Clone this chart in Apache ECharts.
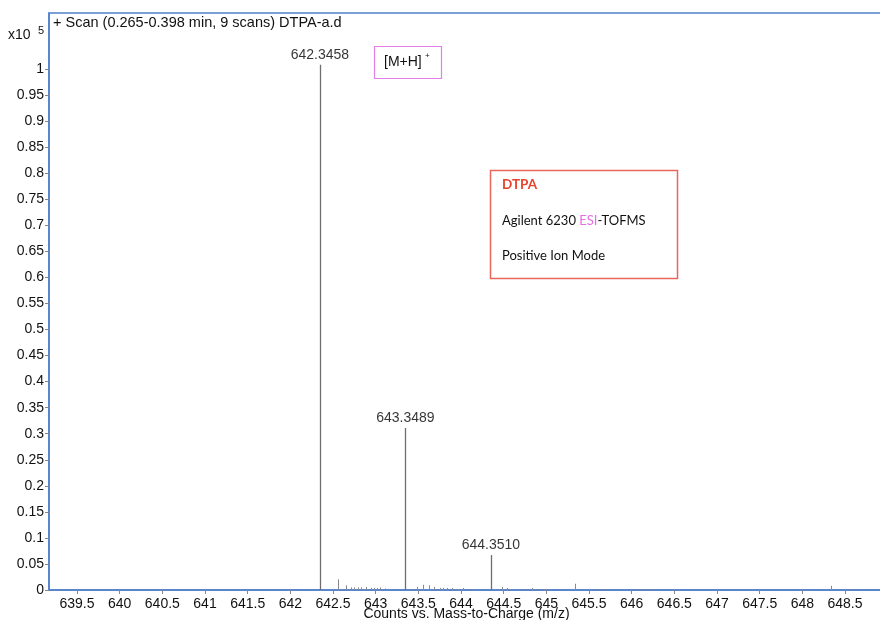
<!DOCTYPE html>
<html>
<head>
<meta charset="utf-8">
<script src="https://cdn.jsdelivr.net/npm/echarts@6/dist/echarts.min.js"></script>
<style>html,body{margin:0;padding:0;background:#fff}#c{width:880px;height:620px}</style>
</head>
<body>
<div id="c"></div>
<script>
// m/z values (x) and counts (x10^5)
const peakMz = [
  642.3458, 642.48, 642.562, 642.649, 642.707, 642.742, 642.797, 642.83, 642.887, 642.949, 642.984, 643.019, 643.054, 643.11,
  643.3489, 643.43, 643.49, 643.56, 643.625, 643.687, 643.75, 643.79, 643.84, 643.90, 643.97, 644.02, 644.11, 644.16, 644.21,
  644.3510, 644.40, 644.477, 644.535, 644.58, 644.63, 644.68, 644.74, 644.83, 644.90, 644.97, 645.05, 645.15,
  645.336, 645.45, 645.52, 645.60, 645.70, 646.05, 646.12, 646.22, 646.55, 646.70, 647.80, 648.15, 648.34, 648.56
];
const peakIntensity = [
  1.008, 0.002, 0.0205, 0.009, 0.005, 0.005, 0.005, 0.005, 0.006, 0.004, 0.004, 0.004, 0.005, 0.003,
  0.311, 0.002, 0.006, 0.010, 0.009, 0.006, 0.004, 0.004, 0.004, 0.004, 0.002, 0.004, 0.002, 0.002, 0.002,
  0.067, 0.002, 0.006, 0.004, 0.002, 0.002, 0.002, 0.002, 0.004, 0.002, 0.002, 0.002, 0.002,
  0.012, 0.002, 0.002, 0.002, 0.002, 0.002, 0.002, 0.002, 0.002, 0.002, 0.002, 0.002, 0.008, 0.002
];
const labeledMz = [642.3458, 643.3489, 644.3510];
const labeledIntensity = [1.008, 0.311, 0.067];
const xTickLabels = [639.5, 640, 640.5, 641, 641.5, 642, 642.5, 643, 643.5, 644, 644.5, 645, 645.5, 646, 646.5, 647, 647.5, 648, 648.5];
const yTickLabels = [0, 0.05, 0.1, 0.15, 0.2, 0.25, 0.3, 0.35, 0.4, 0.45, 0.5, 0.55, 0.6, 0.65, 0.7, 0.75, 0.8, 0.85, 0.9, 0.95, 1];
const titleText = '+ Scan (0.265-0.398 min, 9 scans) DTPA-a.d';
const xAxisName = 'Counts vs. Mass-to-Charge (m/z)';

const peakData = peakMz.map((m, i) => [m, peakIntensity[i]]);
const labelData = labeledMz.map((m, i) => [m, labeledIntensity[i]]);

const FONT = 'Liberation Sans, Arial, sans-serif';
const BLUE = '#4f7fcc';

const chart = echarts.init(document.getElementById('c'), null, {renderer: 'canvas'});
chart.setOption({
  backgroundColor: '#fff',
  animation: false,
  grid: {left: 49, right: -4, top: 13, bottom: 30, outerBoundsMode: 'none', containLabel: false,
    show: true, borderColor: BLUE, borderWidth: 1.5, backgroundColor: 'transparent'},
  xAxis: {
    type: 'value', min: 639.172, max: 648.957,
    name: xAxisName, nameLocation: 'middle', nameGap: 17, nameMoveOverlap: false,
    nameTextStyle: {fontFamily: FONT, fontSize: 14, color: '#111'},
    axisLine: {show: true, lineStyle: {color: BLUE, width: 1.5}},
    axisTick: {show: true, length: 4, inside: false, lineStyle: {color: '#888'}, customValues: xTickLabels},
    axisLabel: {fontFamily: FONT, fontSize: 14, color: '#111', margin: 7, customValues: xTickLabels,
      formatter: v => String(+v.toFixed(2))},
    splitLine: {show: false}
  },
  yAxis: {
    type: 'value', min: 0, max: 1.1075,
    axisLine: {show: true, lineStyle: {color: BLUE, width: 1.5}},
    axisTick: {show: true, length: 4, lineStyle: {color: '#888'}, customValues: yTickLabels},
    axisLabel: {fontFamily: FONT, fontSize: 14, color: '#111', margin: 5, customValues: yTickLabels,
      formatter: v => String(+v.toFixed(2))},
    splitLine: {show: false}
  },
  series: [
    {
      type: 'custom',
      data: peakData,
      renderItem: function (params, api) {
        const top = api.coord([api.value(0), api.value(1)]);
        const base = api.coord([api.value(0), 0]);
        const major = api.value(1) > 0.05;
        return {
          type: 'line',
          shape: {x1: Math.round(top[0]) + 0.5, y1: top[1], x2: Math.round(top[0]) + 0.5, y2: base[1]},
          style: {stroke: major ? '#6e6e6e' : '#8a8a8a', lineWidth: major ? 1.3 : 1}
        };
      },
      z: 3
    },
    {
      type: 'scatter',
      data: labelData,
      symbolSize: 0,
      label: {show: true, position: 'top', distance: 3, fontFamily: FONT, fontSize: 14, color: '#000',
        formatter: p => p.value[0].toFixed(4)},
      z: 4
    }
  ],
  graphic: [
    {type: 'text', left: 53, top: 15, style: {text: titleText, font: '14.5px ' + FONT, fill: '#111'}},
    {type: 'text', left: 8, top: 28, style: {text: 'x10', font: '14px ' + FONT, fill: '#111'}},
    {type: 'text', left: 38, top: 25, style: {text: '5', font: '11px ' + FONT, fill: '#111'}},
    {type: 'rect', shape: {x: 374.5, y: 46.5, width: 67, height: 32}, style: {fill: '#fff', stroke: '#e07fe6', lineWidth: 1.2}},
    {type: 'text', left: 384, top: 55, style: {text: '[M+H]', font: '14px ' + FONT, fill: '#111'}},
    {type: 'text', left: 425, top: 52, style: {text: '+', font: '8px ' + FONT, fill: '#111'}},
    {type: 'rect', shape: {x: 490.5, y: 170.5, width: 187, height: 108}, style: {fill: '#fff', stroke: '#e8665c', lineWidth: 1.5}},
    {type: 'text', left: 502, top: 178, style: {text: 'DTPA', font: 'bold 13.5px Lato, sans-serif', fill: '#e8432c'}},
    {type: 'text', left: 502, top: 214, style: {
      text: '{k|Agilent 6230 }{p|ESI}{k|-TOFMS}',
      rich: {
        k: {fontFamily: 'Lato, sans-serif', fontSize: 13, fill: '#111', color: '#111'},
        p: {fontFamily: 'Lato, sans-serif', fontSize: 13, fill: '#e86ce8', color: '#e86ce8'}
      }
    }},
    {type: 'text', left: 502, top: 249, style: {text: 'Positive Ion Mode', font: '13px Lato, sans-serif', fill: '#111'}}
  ]
});
</script>
</body>
</html>
